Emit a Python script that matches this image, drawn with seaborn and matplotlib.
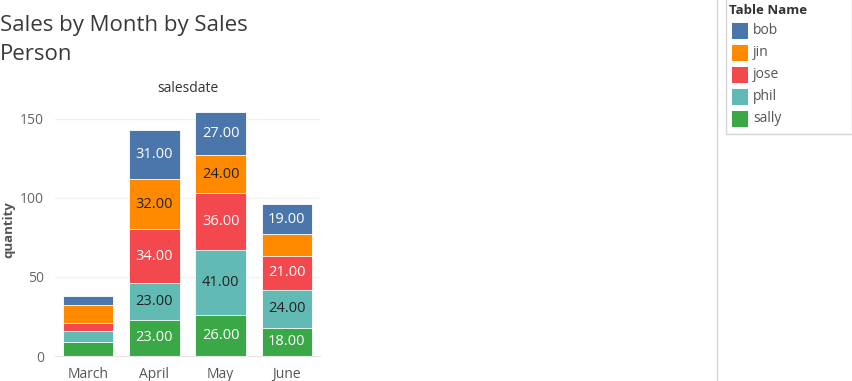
import matplotlib
matplotlib.use("Agg")
import matplotlib.pyplot as plt
from matplotlib.patches import Rectangle
from matplotlib.lines import Line2D
import seaborn as sns
import pandas as pd

months = ["March", "April", "May", "June"]
people = ["bob", "jin", "jose", "phil", "sally"]
bob = [6, 31, 27, 19]
jin = [11, 32, 24, 14]
jose = [5, 34, 36, 21]
phil = [7, 23, 41, 24]
sally = [9, 23, 26, 18]
colors = {"bob": "#4a76ab", "jin": "#ff8a00", "jose": "#f4484f",
          "phil": "#62bab4", "sally": "#3aa846"}
text_col = {"bob": "white", "jin": "#222222", "jose": "white",
            "phil": "#222222", "sally": "white"}

values = {"bob": bob, "jin": jin, "jose": jose, "phil": phil, "sally": sally}
stack_order = ["sally", "phil", "jose", "jin", "bob"]  # bottom to top

rows = []
for i, m in enumerate(months):
    cum = 0
    for p in stack_order:
        v = values[p][i]
        rows.append({"month": m, "person": p, "quantity": v,
                     "bottom": cum, "top": cum + v})
        cum += v
df = pd.DataFrame(rows)

sns.set_style("white")
plt.rcParams["font.family"] = ["Open Sans", "DejaVu Sans"]

fig = plt.figure(figsize=(8.52, 3.81), dpi=100)
ax = fig.add_axes([55 / 852, 1 - 356 / 381, 265 / 852, 253 / 381])

# draw cumulative tops from the tallest down so each segment shows
for p in reversed(stack_order):
    sub = df[df["person"] == p]
    sns.barplot(data=sub, x="month", y="top", order=months, color=colors[p],
                width=0.76, saturation=1, edgecolor="white", linewidth=0.6,
                ax=ax, errorbar=None)

for _, r in df.iterrows():
    if r["quantity"] >= 18:
        ax.text(months.index(r["month"]), (r["bottom"] + r["top"]) / 2,
                f"{r['quantity']:.2f}", ha="center", va="center",
                fontsize=10.5, color=text_col[r["person"]])

ax.set_xlim(-0.5, 3.5)
ax.set_ylim(0, 160)
ax.set_yticks([0, 50, 100, 150])
ax.yaxis.grid(True, color="#f0f0f0", linewidth=1)
ax.set_axisbelow(True)
for s in ["top", "right", "left"]:
    ax.spines[s].set_visible(False)
ax.spines["bottom"].set_color("#e6e6e6")
ax.tick_params(axis="y", length=0, labelsize=10, labelcolor="#666666", pad=8)
ax.tick_params(axis="x", length=0, labelsize=10, labelcolor="#555555", pad=8)
ax.set_xlabel("")
ax.set_ylabel("quantity", fontsize=9.5, fontweight="bold", color="#555555")
ax.yaxis.set_label_coords(-40 / 265, 0.5)
ax.set_title("salesdate", fontsize=10, color="#333333", pad=8)

fig.text(0.0, 1 - 40 / 381, "Sales by Month by Sales\nPerson", fontsize=16,
         color="#3a3a3a", va="center", ha="left", linespacing=1.45)

# right panel divider
fig.add_artist(Line2D([717 / 852, 717 / 852], [0, 1], color="#d4d4d4",
                      linewidth=1, transform=fig.transFigure))
# legend box
fig.add_artist(Rectangle((726 / 852, 1 - 134 / 381), 126 / 852, 140 / 381,
                         transform=fig.transFigure, fill=False,
                         edgecolor="#d4d4d4", linewidth=1))
fig.text(729 / 852, 1 - 10 / 381, "Table Name", fontsize=9.5,
         fontweight="bold", color="#333333", va="center", ha="left")
for k, p in enumerate(people):
    yc = 31 + 22 * k
    fig.add_artist(Rectangle((732 / 852, 1 - (yc + 8) / 381), 16 / 852,
                             16 / 381, transform=fig.transFigure,
                             facecolor=colors[p], edgecolor="none"))
    fig.text(753 / 852, 1 - yc / 381, p, fontsize=10, color="#555555",
             va="center", ha="left")

fig.savefig("out.png", dpi=100)
